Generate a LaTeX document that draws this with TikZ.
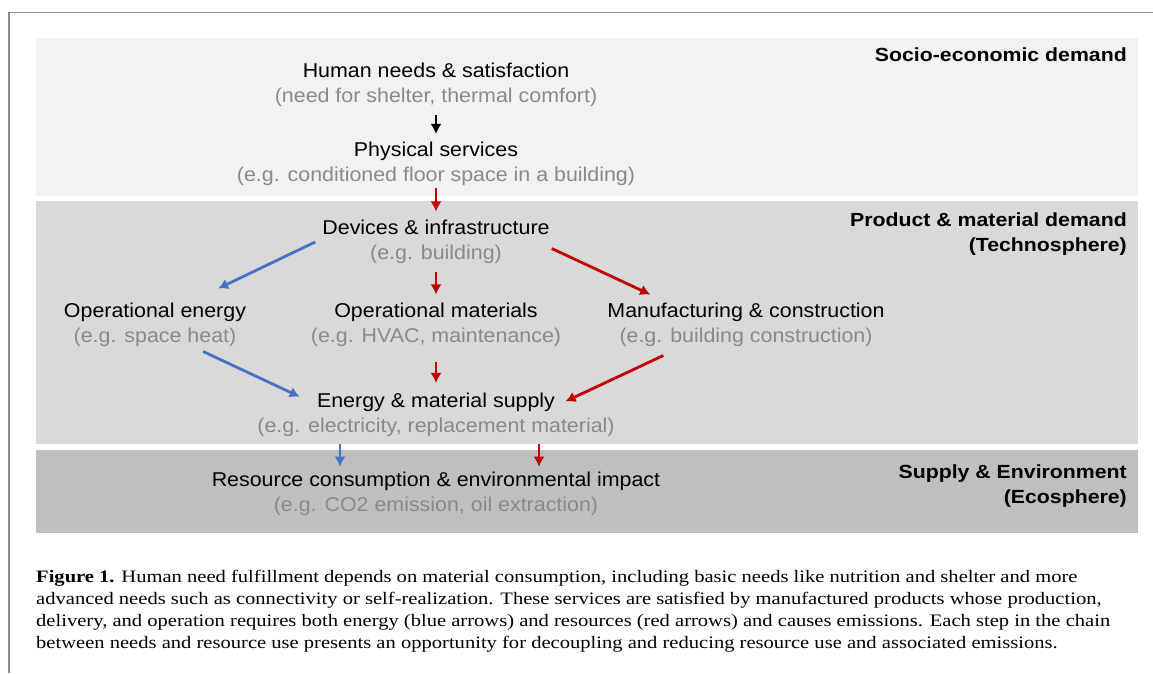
\documentclass[tikz,border=0pt]{standalone}
\usepackage{fontspec}
\setmainfont{Liberation Serif}
\newfontfamily\diagfont[FakeStretch=1.07]{Liberation Sans}
\newfontfamily\layerfont[FakeStretch=1.12]{Liberation Sans}
\newfontfamily\captionfont[FakeStretch=1.175]{Liberation Serif}
\usetikzlibrary{arrows.meta}

\definecolor{bandA}{RGB}{242,242,242}
\definecolor{bandB}{RGB}{217,217,217}
\definecolor{bandC}{RGB}{191,191,191}
\definecolor{subgray}{RGB}{137,137,137}
\definecolor{framegray}{RGB}{140,140,140}
\definecolor{arrblue}{RGB}{68,114,196}
\definecolor{arrred}{RGB}{192,0,0}

\newcommand{\egtext}[1]{\textcolor{subgray}{#1}}

\tikzset{
  stage/.style={align=center, inner sep=0pt, font=\diagfont\fontsize{20}{25}\selectfont},
  layer/.style={anchor=north east, align=right, inner sep=0pt, font=\layerfont\bfseries\fontsize{19}{25}\selectfont},
  flow/.style={line width=2.8pt, -{Latex[length=10pt,width=11pt]}}
}

\begin{document}
\begin{tikzpicture}[x=1pt,y=-1pt]

\useasboundingbox (0,0) rectangle (1153,673);
\draw[framegray, line width=1.5pt] (9,673)--(9,12.5)--(1153,12.5);

\fill[bandA] (36,38) rectangle (1138,195.5);
\fill[bandB] (36,201) rectangle (1138,444);
\fill[bandC] (36,450) rectangle (1138,532.5);

\node[layer] (socio) at (1127,48) {Socio-economic demand};
\node[layer] (techno) at (1127,213) {Product \& material demand\\(Technosphere)};
\node[layer] (eco) at (1127,465) {Supply \& Environment\\(Ecosphere)};

\node[stage] (need) at (436,85) {Human needs \& satisfaction\\\egtext{(need for shelter, thermal comfort)}};
\node[stage] (phys) at (436,164) {Physical services\\\egtext{(e.g. conditioned floor space in a building)}};
\node[stage] (dev) at (436,242) {Devices \& infrastructure\\\egtext{(e.g. building)}};
\node[stage] (opE) at (155,325) {Operational energy\\\egtext{(e.g. space heat)}};
\node[stage] (opM) at (436,325) {Operational materials\\\egtext{(e.g. HVAC, maintenance)}};
\node[stage] (manu) at (746,325) {Manufacturing \& construction\\\egtext{(e.g. building construction)}};
\node[stage] (sup) at (436,414.5) {Energy \& material supply\\\egtext{(e.g. electricity, replacement material)}};
\node[stage] (res) at (436,494) {Resource consumption \& environmental impact\\\egtext{(e.g. CO2 emission, oil extraction)}};

\draw[flow, shorten <=8pt, shorten >=8pt] (need)--(phys);
\draw[flow, arrred, shorten <=2pt, shorten >=8.5pt] (phys)--(dev);
\draw[flow, arrred, shorten <=7.5pt, shorten >=8.5pt] (dev)--(opM);
\draw[flow, arrred, shorten <=14.5pt, shorten >=9.5pt] (opM)--(sup);

\draw[flow, arrblue] ([xshift=-7pt]dev.west)--([xshift=-28pt,yshift=14.5pt]opE.north east);
\draw[flow, arrred] ([xshift=2pt,yshift=-6.5pt]dev.east)--([xshift=43pt,yshift=8.5pt]manu.north west);
\draw[flow, arrblue] ([xshift=-43pt,yshift=-4.5pt]opE.south east)--([xshift=42.5pt,yshift=-4.2pt]sup.north west);
\draw[flow, arrred] ([xshift=-82.7pt,yshift=-8.5pt]manu.south)--([xshift=-49.3pt,yshift=-8.9pt]sup.north east);

\draw[flow, arrblue, shorten <=7pt, shorten >=5.3pt] ([xshift=-96pt]sup.south)--([xshift=-96pt]res.north);
\draw[flow, arrred, shorten <=7pt, shorten >=5.3pt] ([xshift=103pt]sup.south)--([xshift=103pt]res.north);

\node[anchor=north west, align=left, inner sep=0pt, font=\captionfont\fontsize{17.5}{22.3}\selectfont] (caption) at (36,569.5)
  {\textbf{Figure 1.} Human need fulfillment depends on material consumption, including basic needs like nutrition and shelter and more\\
   advanced needs such as connectivity or self-realization. These services are satisfied by manufactured products whose production,\\
   delivery, and operation requires both energy (blue arrows) and resources (red arrows) and causes emissions. Each step in the chain\\
   between needs and resource use presents an opportunity for decoupling and reducing resource use and associated emissions.};

\end{tikzpicture}
\end{document}
